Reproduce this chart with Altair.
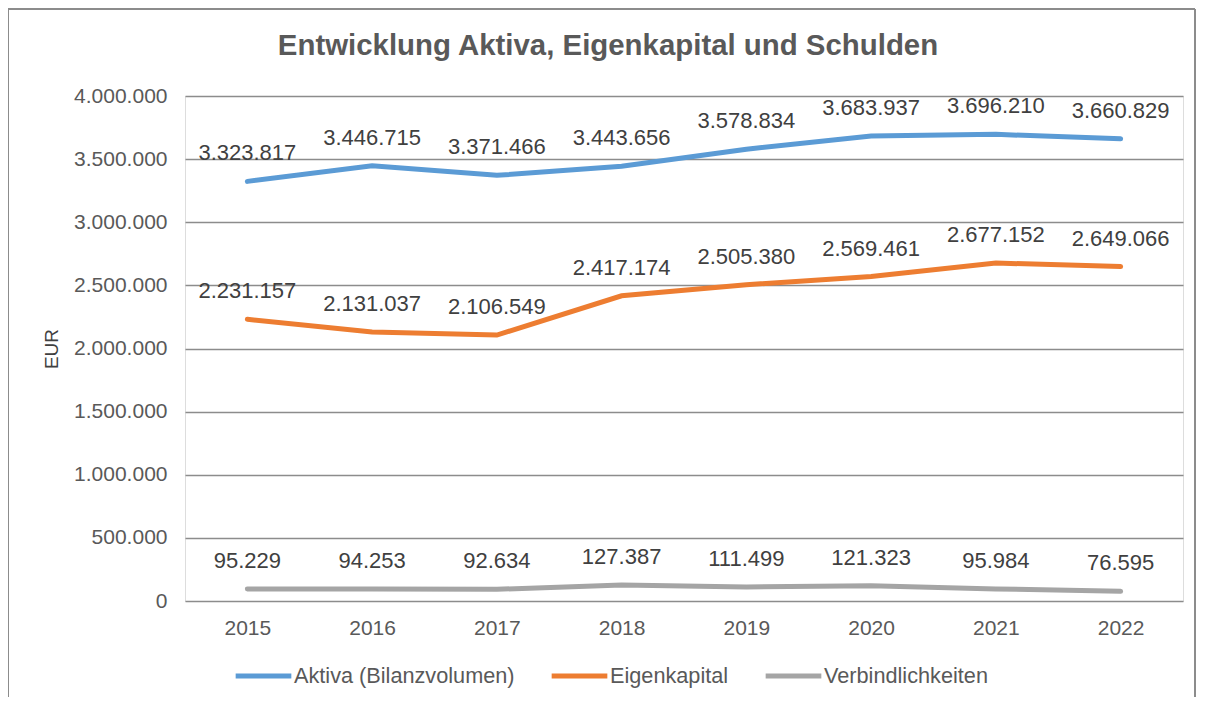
import altair as alt
import pandas as pd

years = ["2015", "2016", "2017", "2018", "2019", "2020", "2021", "2022"]
aktiva = [3323817, 3446715, 3371466, 3443656, 3578834, 3683937, 3696210, 3660829]
eigenkapital = [2231157, 2131037, 2106549, 2417174, 2505380, 2569461, 2677152, 2649066]
verbindlichkeiten = [95229, 94253, 92634, 127387, 111499, 121323, 95984, 76595]
series_names = ["Aktiva (Bilanzvolumen)", "Eigenkapital", "Verbindlichkeiten"]
series_colors = ["#5B9BD5", "#ED7D31", "#A5A5A5"]
y_ticks = [0, 500000, 1000000, 1500000, 2000000, 2500000, 3000000, 3500000, 4000000]
title_text = "Entwicklung Aktiva, Eigenkapital und Schulden"

rows = []
for name, vals in zip(series_names, [aktiva, eigenkapital, verbindlichkeiten]):
    for y, v in zip(years, vals):
        rows.append({"Jahr": y, "Wert": v, "Reihe": name,
                     "Label": f"{v:,}".replace(",", ".")})
df = pd.DataFrame(rows)

FONT = "Liberation Sans"

x_enc = alt.X("Jahr:N", sort=years, title=None,
              axis=alt.Axis(domain=False, ticks=False, grid=False, labelAngle=0,
                            labelFontSize=21, labelColor="#595959", labelFont=FONT,
                            labelPadding=16))
y_enc = alt.Y("Wert:Q", title="EUR",
              scale=alt.Scale(domain=[0, 4000000], nice=False),
              axis=alt.Axis(values=y_ticks, domain=False, ticks=False, grid=True,
                            gridColor="#8c8c8c", gridWidth=1.5,
                            labelFontSize=21, labelColor="#595959", labelFont=FONT,
                            labelPadding=18,
                            labelExpr="replace(replace(format(datum.value, ','), ',', '.'), ',', '.')",
                            titleFontSize=19, titleFontWeight="normal", titleColor="#404040",
                            titleFont=FONT, titlePadding=12))
color_enc = alt.Color("Reihe:N", sort=series_names,
                      scale=alt.Scale(domain=series_names, range=series_colors),
                      legend=alt.Legend(title=None, orient="none", legendX=48, legendY=549,
                                        direction="horizontal", symbolType="stroke",
                                        symbolStrokeWidth=5, symbolSize=3100,
                                        labelFontSize=21.7, labelColor="#595959", labelFont=FONT,
                                        labelOffset=0, columnPadding=26, labelLimit=400))

base = alt.Chart(df)
lines = base.mark_line(strokeWidth=5, strokeCap="round").encode(x=x_enc, y=y_enc, color=color_enc)
labels = base.mark_text(dy=-28, fontSize=22, color="#404040", font=FONT).encode(
    x=alt.X("Jahr:N", sort=years), y="Wert:Q", text="Label:N")

bdf = pd.DataFrame({"t": [title_text]})
title_mark = alt.Chart(bdf).mark_text(fontSize=29.4, font=FONT, fontWeight="bold",
                                      color="#595959", align="center", baseline="middle").encode(
    x=alt.value(423), y=alt.value(-50), text="t:N")
border_left = alt.Chart(bdf).mark_rule(color="#8c8c8c", strokeWidth=2).encode(
    x=alt.value(-177), y=alt.value(-87), y2=alt.value(612))
border_top = alt.Chart(bdf).mark_rule(color="#8c8c8c", strokeWidth=2).encode(
    x=alt.value(-177), x2=alt.value(1010), y=alt.value(-87))
border_right = alt.Chart(bdf).mark_rule(color="#8c8c8c", strokeWidth=2).encode(
    x=alt.value(1010), y=alt.value(-87), y2=alt.value(612))

chart = alt.layer(lines, labels, title_mark, border_left, border_top, border_right).properties(
    width=998, height=505,
    autosize=alt.AutoSizeParams(type="none"),
    padding={"left": 177, "top": 88, "right": 14, "bottom": 96},
).configure_view(stroke=None).configure(background="white")

chart.save("out.html", embed_options={"renderer": "svg", "actions": False})
